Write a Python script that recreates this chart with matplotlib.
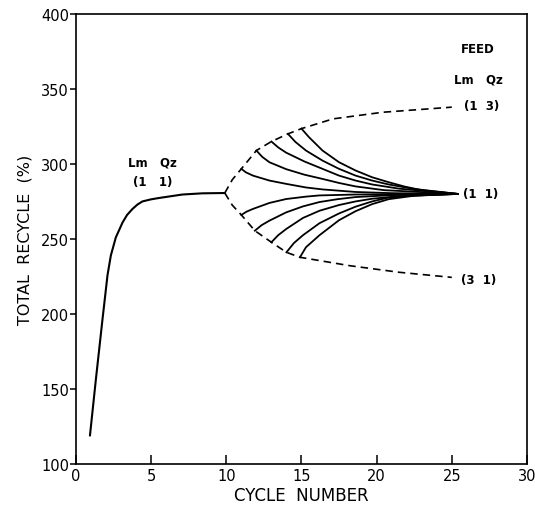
import matplotlib
matplotlib.use("Agg")
import matplotlib.pyplot as plt

# main approach curve, feed Lm:Qz = 1:1
main_x = [0.93, 1.33, 1.77, 2.10, 2.32, 2.65, 3.10, 3.40, 3.76, 4.10, 4.42, 5.00, 5.53, 7.08, 8.41, 9.9]
main_y = [119, 157, 197, 226, 239, 251, 261, 266, 270, 273, 275, 276.4, 277.3, 279.6, 280.4, 280.6]

# dashed envelopes (feed 1:3 above, 3:1 below)
upper_env_x = [9.9, 10.4, 11.0, 12.0, 13.0, 14.1, 15.0, 17.1, 20.4, 25.0]
upper_env_y = [280.6, 289.5, 296.7, 308.9, 314.9, 320.0, 323.5, 330.0, 334.4, 337.8]
lower_env_x = [9.9, 10.4, 11.0, 11.9, 13.0, 14.0, 14.9, 18.2, 21.5, 25.0]
lower_env_y = [280.6, 272.5, 266.0, 255.5, 247.8, 241.1, 237.8, 232.2, 227.8, 224.4]

# return branches back to feed 1:1
b1_x = [11.0, 11.3, 11.77, 12.87, 13.98, 15.3, 16.4, 18.6, 21.0, 25.4]
b1_y = [296.7, 294.4, 292.2, 288.9, 286.7, 284.3, 283.0, 281.3, 280.5, 280]
b2_x = [12.0, 12.4, 12.87, 13.98, 15.2, 16.4, 17.5, 18.6, 20.5, 25.4]
b2_y = [308.9, 304.6, 301.1, 296.5, 292.8, 290.0, 287.3, 285.0, 282.5, 280]
b3_x = [13.0, 13.45, 13.98, 15.2, 16.4, 17.5, 18.6, 19.7, 21.5, 25.4]
b3_y = [314.9, 311.0, 307.5, 301.6, 296.7, 292.2, 288.9, 286.3, 283.5, 280]
b4_x = [14.1, 14.6, 15.3, 16.4, 17.5, 18.6, 19.7, 20.8, 22.5, 25.4]
b4_y = [320.0, 314.6, 308.9, 302.2, 296.7, 292.2, 288.9, 286.3, 283.3, 280]
b5_x = [15.0, 15.5, 16.4, 17.5, 18.6, 19.7, 20.8, 21.9, 23.0, 25.4]
b5_y = [323.5, 317.8, 308.9, 301.1, 295.6, 291.1, 287.8, 284.8, 282.5, 280]

l1_x = [11.0, 11.35, 11.77, 12.87, 13.98, 15.3, 16.2, 18.6, 25.4]
l1_y = [266.0, 268.2, 270.0, 274.0, 276.6, 278.2, 279.0, 279.6, 280]
l2_x = [11.9, 12.35, 12.87, 13.98, 15.1, 16.2, 17.4, 18.6, 21.0, 25.4]
l2_y = [255.5, 259.2, 262.2, 267.7, 271.7, 274.6, 276.5, 277.9, 279.2, 280]
l3_x = [13.0, 13.45, 13.98, 15.1, 16.2, 17.5, 18.6, 19.7, 21.5, 25.4]
l3_y = [247.8, 252.5, 256.6, 264.0, 268.8, 272.6, 275.0, 276.8, 278.5, 280]
l4_x = [14.0, 14.5, 15.1, 16.2, 17.5, 18.6, 19.7, 20.8, 22.5, 25.4]
l4_y = [241.1, 247.3, 252.5, 260.5, 267.0, 271.5, 275.0, 277.6, 279.0, 280]
l5_x = [14.9, 15.3, 16.2, 17.5, 18.6, 19.7, 20.8, 22.5, 25.4]
l5_y = [237.8, 244.5, 252.5, 262.5, 268.5, 273.2, 276.5, 278.8, 280]

branches = [(b1_x, b1_y), (b2_x, b2_y), (b3_x, b3_y), (b4_x, b4_y), (b5_x, b5_y),
            (l1_x, l1_y), (l2_x, l2_y), (l3_x, l3_y), (l4_x, l4_y), (l5_x, l5_y)]

x_ticks = [0, 5, 10, 15, 20, 25, 30]
y_ticks = [100, 150, 200, 250, 300, 350, 400]

plt.rcParams['font.family'] = ['DejaVu Sans']

fig = plt.figure(figsize=(5.35, 5.10), dpi=100)
ax = fig.add_axes([0.142, 0.088, 0.843, 0.883])

ax.plot(main_x, main_y, color='black', lw=1.5, solid_capstyle='round', solid_joinstyle='round')
for bx, by in branches:
    ax.plot(bx, by, color='black', lw=1.3, solid_joinstyle='round')
ax.plot(upper_env_x, upper_env_y, color='black', lw=1.2, dashes=(4.5, 3))
ax.plot(lower_env_x, lower_env_y, color='black', lw=1.2, dashes=(4.5, 3))

ax.set_xlim(0, 30)
ax.set_ylim(100, 400)
ax.set_xticks(x_ticks)
ax.set_yticks(y_ticks)
ax.tick_params(axis='x', direction='in', length=6.5, width=1.1, labelsize=10.5, pad=3)
ax.tick_params(axis='y', direction='out', length=4, width=1.1, labelsize=10.5, pad=1)
for s in ax.spines.values():
    s.set_linewidth(1.2)

ax.set_xlabel('CYCLE  NUMBER', fontsize=12, labelpad=2)
ax.set_ylabel('TOTAL  RECYCLE  (%)', fontsize=11.5, labelpad=6)

kw = dict(ha='center', va='center', fontsize=8.5, fontweight='bold')
ax.text(5.1, 301, 'Lm   Qz', **kw)
ax.text(5.1, 288, '(1   1)', **kw)
ax.text(26.7, 376.7, 'FEED', **kw)
ax.text(26.8, 356.7, 'Lm   Qz', **kw)
ax.text(27.0, 338.9, '(1  3)', **kw)
ax.text(26.9, 280, '(1  1)', **kw)
ax.text(26.8, 223, '(3  1)', **kw)

fig.savefig('out.png', dpi=100)
